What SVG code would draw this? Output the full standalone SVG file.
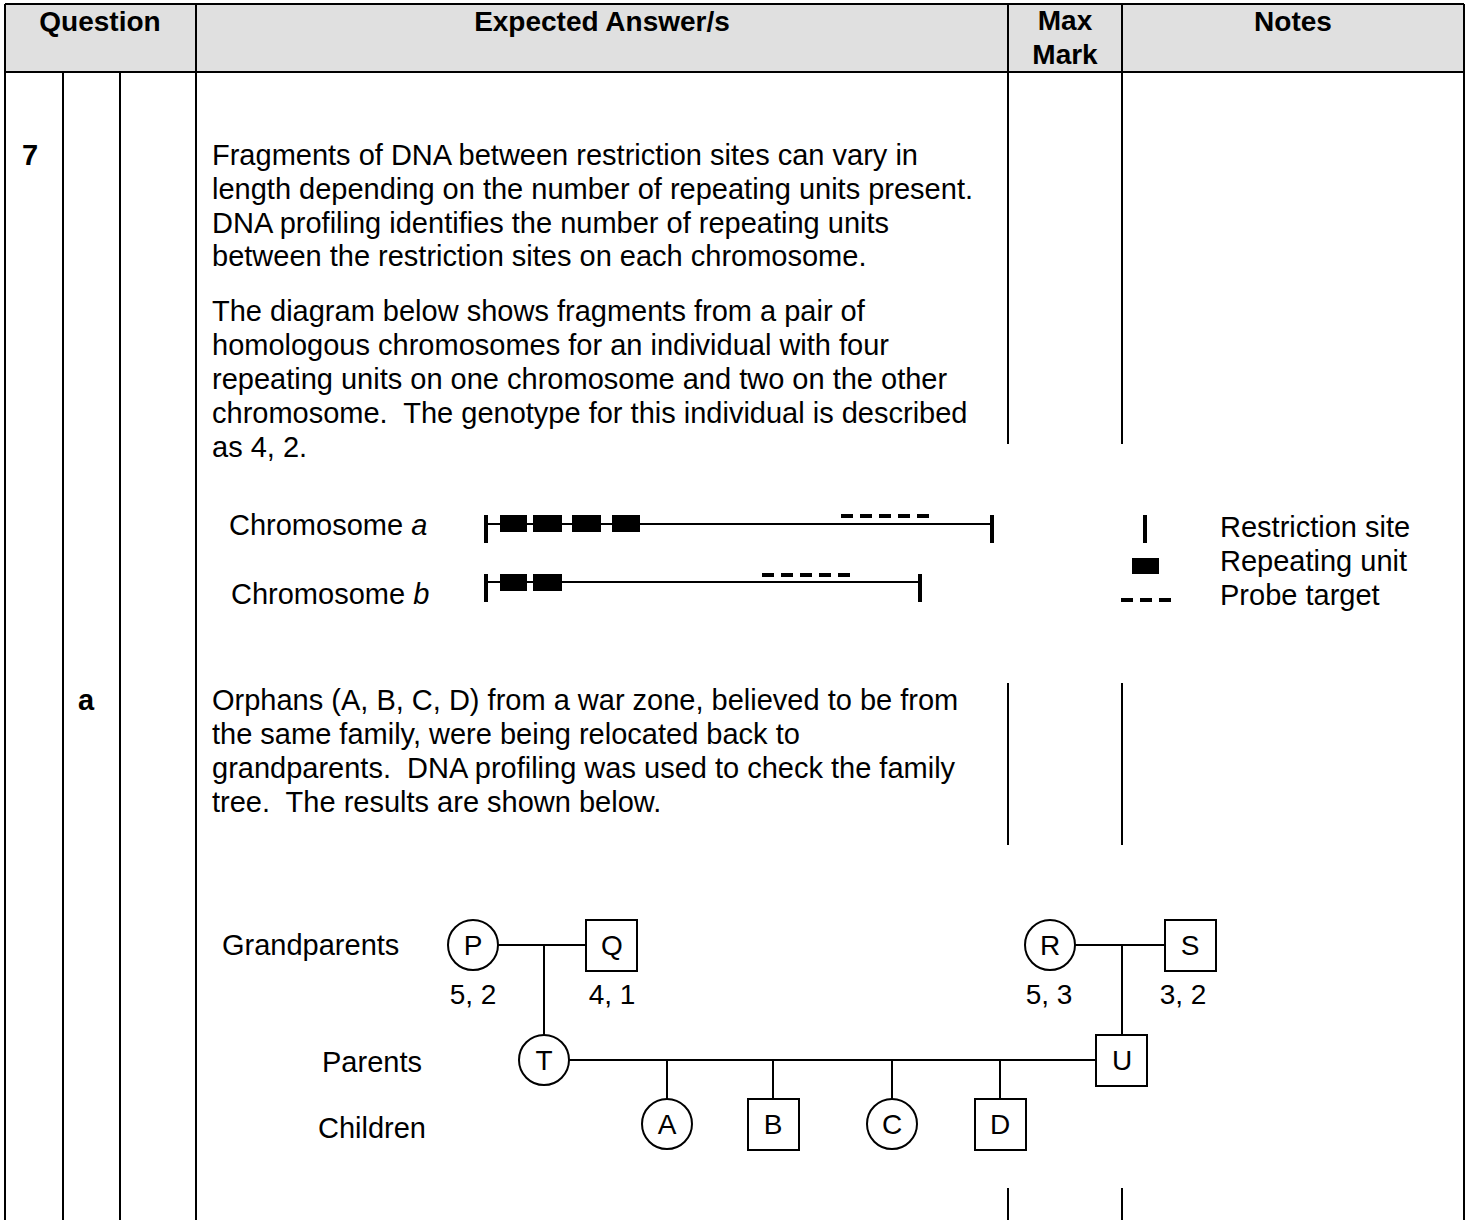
<svg xmlns="http://www.w3.org/2000/svg" width="1469" height="1220" viewBox="0 0 1469 1220">
<style>
text{font-family:"Liberation Sans",Arial,sans-serif;font-size:29px;fill:#000;white-space:pre}
.h{font-weight:bold;font-size:28px;text-anchor:middle}
.b{font-weight:bold}
.c{text-anchor:middle}
.g{stroke:#000;stroke-width:2;fill:none}
.ln{stroke:#000;stroke-width:2;fill:none}
.rs{stroke:#000;stroke-width:4}
.pr{stroke:#000;stroke-width:4;stroke-dasharray:12 7}
.sym{fill:#fff;stroke:#000;stroke-width:2}
.ps{font-size:28px;text-anchor:middle}
</style>
<g id="table">
<rect x="5" y="4" width="1459" height="68" fill="#e0e0e0"/>
<path class="g" d="M5 4H1464M5 72H1464M5 4V1220M1464 4V1220M63 72V1220M120 72V1220M196 4V1220M1008 4V444M1122 4V444M1008 683V845M1122 683V845M1008 1188V1220M1122 1188V1220"/>
<text class="h" x="100" y="31">Question</text>
<text class="h" x="602" y="31">Expected Answer/s</text>
<text class="h" x="1065" y="30">Max</text>
<text class="h" x="1065" y="64">Mark</text>
<text class="h" x="1293" y="31">Notes</text>
<text class="b" x="22" y="165">7</text>
<text class="b" x="78" y="710">a</text>
<text x="212" y="165">Fragments of DNA between restriction sites can vary in</text>
<text x="212" y="199">length depending on the number of repeating units present.</text>
<text x="212" y="233">DNA profiling identifies the number of repeating units</text>
<text x="212" y="266">between the restriction sites on each chromosome.</text>
<text x="212" y="321">The diagram below shows fragments from a pair of</text>
<text x="212" y="355">homologous chromosomes for an individual with four</text>
<text x="212" y="389">repeating units on one chromosome and two on the other</text>
<text x="212" y="423">chromosome.  The genotype for this individual is described</text>
<text x="212" y="457">as 4, 2.</text>
<text x="212" y="710">Orphans (A, B, C, D) from a war zone, believed to be from</text>
<text x="212" y="744">the same family, were being relocated back to</text>
<text x="212" y="778">grandparents.  DNA profiling was used to check the family</text>
<text x="212" y="812">tree.  The results are shown below.</text>
</g>
<g id="chromosome-a">
<text x="229" y="535">Chromosome <tspan font-style="italic">a</tspan></text>
<line class="ln" x1="486" y1="524" x2="992" y2="524"/>
<line class="rs" x1="486" y1="515" x2="486" y2="543"/>
<line class="rs" x1="992" y1="515" x2="992" y2="543"/>
<rect x="500" y="515" width="27" height="17"/>
<rect x="533" y="515" width="29" height="17"/>
<rect x="572" y="515" width="29" height="17"/>
<rect x="612" y="515" width="28" height="17"/>
<line class="pr" x1="841" y1="516" x2="932" y2="516"/>
</g>
<g id="chromosome-b">
<text x="231" y="604">Chromosome <tspan font-style="italic">b</tspan></text>
<line class="ln" x1="486" y1="582" x2="920" y2="582"/>
<line class="rs" x1="486" y1="574" x2="486" y2="602"/>
<line class="rs" x1="920" y1="574" x2="920" y2="602"/>
<rect x="500" y="574" width="27" height="17"/>
<rect x="533" y="574" width="29" height="17"/>
<line class="pr" x1="762" y1="575" x2="851" y2="575"/>
</g>
<g id="legend">
<line class="rs" x1="1145" y1="515" x2="1145" y2="543"/>
<rect x="1132" y="558" width="27" height="16"/>
<line class="pr" x1="1121" y1="600" x2="1172" y2="600"/>
<text x="1220" y="537">Restriction site</text>
<text x="1220" y="571">Repeating unit</text>
<text x="1220" y="605">Probe target</text>
</g>
<g id="connectors">
<path class="ln" d="M498 945H586M544 945V1035M1075 945H1165M1122 945V1035M569 1060H1096M667 1060V1099M773 1060V1099M892 1060V1099M1000 1060V1099"/>
</g>
<g id="labels">
<text x="222" y="955">Grandparents</text>
<text x="322" y="1072">Parents</text>
<text x="318" y="1138">Children</text>
</g>
<g id="node-P"><circle class="sym" cx="473" cy="945" r="25"/><text class="ps" x="473" y="955">P</text><text class="ps" x="473" y="1004">5, 2</text></g>
<g id="node-Q"><rect class="sym" x="586" y="920" width="51" height="51"/><text class="ps" x="612" y="955">Q</text><text class="ps" x="612" y="1004">4, 1</text></g>
<g id="node-R"><circle class="sym" cx="1050" cy="945" r="25"/><text class="ps" x="1050" y="955">R</text><text class="ps" x="1049" y="1004">5, 3</text></g>
<g id="node-S"><rect class="sym" x="1165" y="920" width="51" height="51"/><text class="ps" x="1190" y="955">S</text><text class="ps" x="1183" y="1004">3, 2</text></g>
<g id="node-T"><circle class="sym" cx="544" cy="1060" r="25"/><text class="ps" x="544" y="1070">T</text></g>
<g id="node-U"><rect class="sym" x="1096" y="1035" width="51" height="51"/><text class="ps" x="1122" y="1070">U</text></g>
<g id="node-A"><circle class="sym" cx="667" cy="1124" r="25"/><text class="ps" x="667" y="1134">A</text></g>
<g id="node-B"><rect class="sym" x="748" y="1099" width="51" height="51"/><text class="ps" x="773" y="1134">B</text></g>
<g id="node-C"><circle class="sym" cx="892" cy="1124" r="25"/><text class="ps" x="892" y="1134">C</text></g>
<g id="node-D"><rect class="sym" x="975" y="1099" width="51" height="51"/><text class="ps" x="1000" y="1134">D</text></g>
</svg>
